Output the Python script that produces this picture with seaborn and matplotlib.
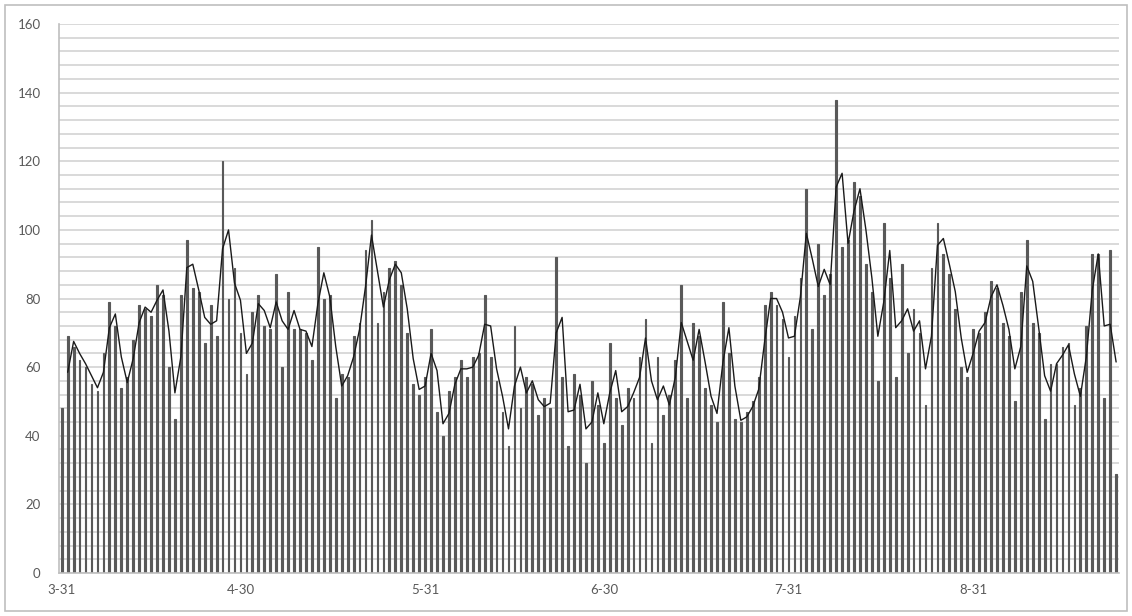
import numpy as np
import pandas as pd
import seaborn as sns
import matplotlib.pyplot as plt
from matplotlib.patches import Rectangle

# daily values, 3-31 onwards
values = [
    48, 69, 66, 62, 60, 55, 53, 64, 79, 72, 54, 57, 68, 78, 77, 75, 84,
    81, 60, 45, 81, 97, 83, 82, 67, 78, 69, 120, 80, 89, 70, 58, 76, 81, 72,
    71, 87, 60, 82, 71, 71, 70, 62, 95, 80, 81, 51, 58, 57, 69, 73, 94,
    103, 73, 82, 89, 91, 84, 70, 55, 52, 57, 71, 47, 40, 53, 57, 62, 57, 63,
    64, 81, 63, 56, 47, 37, 72, 48, 57, 55, 46, 51, 48, 92, 57, 37, 58,
    52, 32, 56, 49, 38, 67, 51, 43, 54, 51, 63, 74, 38, 63, 46, 52, 62, 84,
    51, 73, 69, 54, 49, 44, 79, 64, 45, 44, 47, 50, 57, 78, 82, 78, 74, 63,
    75, 86, 112, 71, 96, 81, 87, 138, 95, 97, 114, 110, 90, 82, 56, 102, 86, 57,
    90, 64, 77, 70, 49, 89, 102, 93, 87, 77, 60, 57, 71, 70, 76, 85, 83,
    73, 69, 50, 82, 97, 73, 70, 45, 61, 61, 66, 67, 49, 54, 72, 93, 93, 51, 94, 29,
]
tick_labels = ["3-31", "4-30", "5-31", "6-30", "7-31", "8-31"]

dates = pd.date_range("2015-03-31", periods=len(values), freq="D")
df = pd.DataFrame({"day": np.arange(len(values)), "date": dates, "count": values})
# 2-period moving average trendline
df["ma"] = df["count"].rolling(2).mean()

sns.set_style("white")
plt.rcParams["font.family"] = ["Lato", "DejaVu Sans"]

fig = plt.figure(figsize=(11.32, 6.16), dpi=100)
ax = fig.add_axes([0.0519, 0.0698, 0.9367, 0.8912])

# outer chart border
fig.patches.append(Rectangle((5 / 1132, 5 / 616), 1122 / 1132, 606 / 616,
                             transform=fig.transFigure, fill=False,
                             edgecolor="#bfbfbf", linewidth=1.2))

sns.barplot(data=df, x="day", y="count", color="#595959", width=0.3,
            saturation=1, edgecolor="#595959", linewidth=0.8, ax=ax)
sns.lineplot(data=df, x="day", y="ma", color="#1a1a1a", linewidth=1.0, ax=ax)

ax.set_xlim(-0.5, len(values) - 0.5)
ax.set_ylim(0, 160)
ax.set_yticks(np.arange(0, 161, 20))
ax.set_yticks(np.arange(0, 161, 4), minor=True)
ax.yaxis.grid(True, which="both", color="#d9d9d9", linewidth=1.4)
ax.set_axisbelow(True)

# label positions from the dates
tick_pos = [int(df.index[df["date"].dt.strftime("%-m-%d") == t][0]) for t in tick_labels]
ax.set_xticks(tick_pos)
ax.set_xticklabels(tick_labels)

ax.tick_params(axis="y", which="both", length=0, pad=13, labelsize=9.5, labelcolor="#595959")
ax.tick_params(axis="x", length=0, pad=8, labelsize=9.5, labelcolor="#595959")
ax.set_xlabel("")
ax.set_ylabel("")

for s in ["top", "right"]:
    ax.spines[s].set_visible(False)
for s in ["left", "bottom"]:
    ax.spines[s].set_color("#bfbfbf")
    ax.spines[s].set_linewidth(1.2)

fig.savefig("out.png", dpi=100)
